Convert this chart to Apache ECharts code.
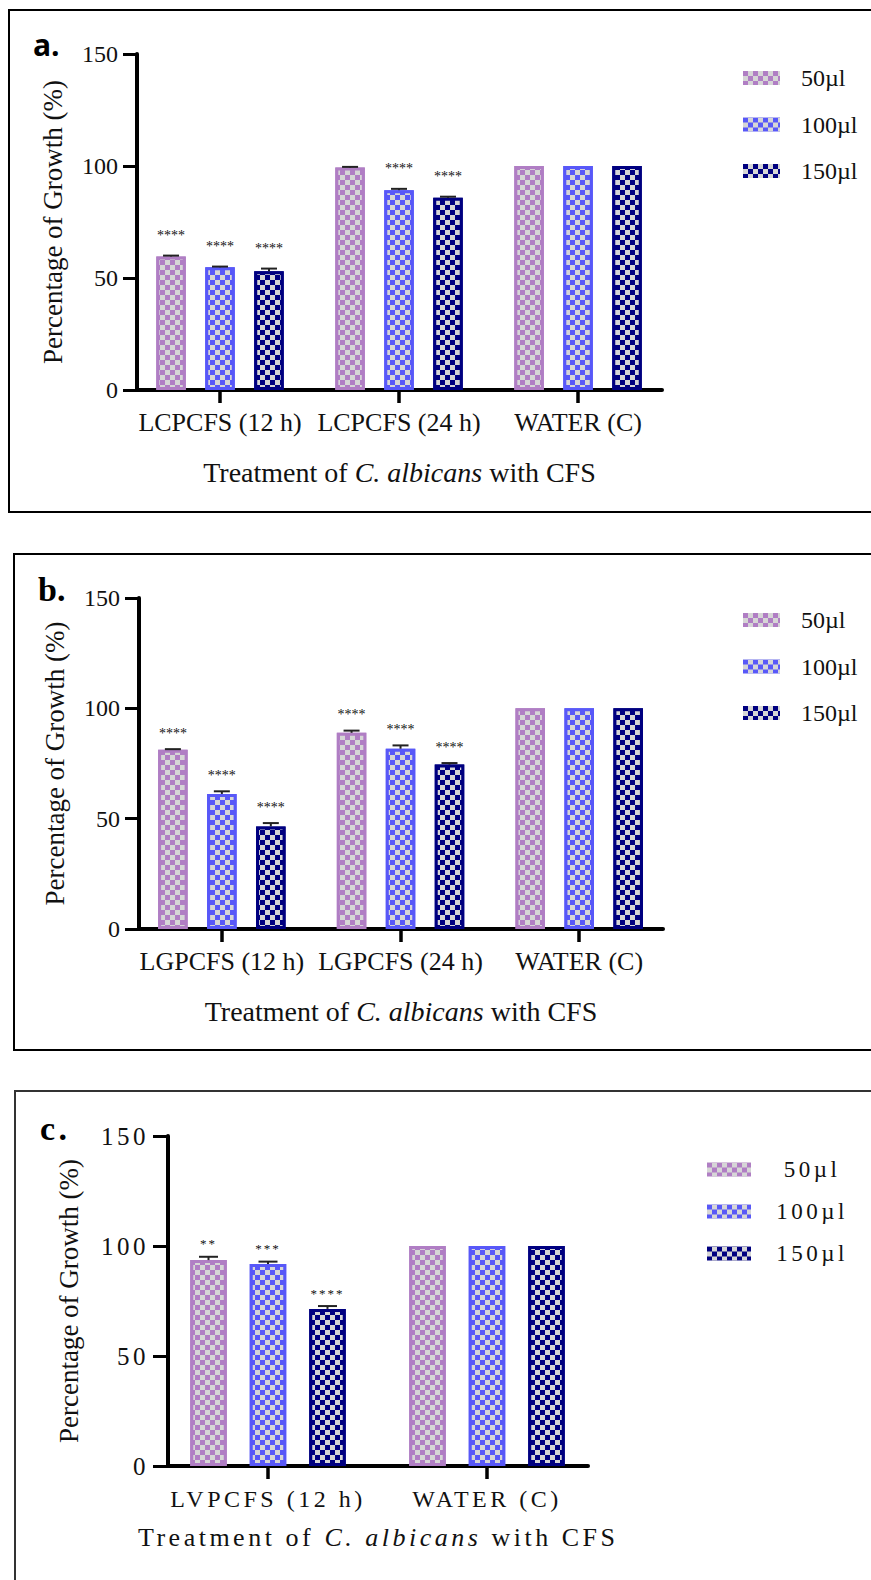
<!DOCTYPE html>
<html>
<head>
<meta charset="utf-8">
<script src="https://cdn.jsdelivr.net/npm/echarts@6/dist/echarts.min.js"></script>
<style>
  html, body { margin: 0; padding: 0; background: #fff; width: 871px; height: 1580px; overflow: hidden; position: relative; }
  .frame { position: absolute; box-sizing: border-box; border: 2px solid #000; }
  .chart { position: absolute; left: 0; width: 871px; }
  /* panel c is typeset with wider tracking */
  #panelC text { letter-spacing: 3.5px; }
  #panelC text[style*="13px"] { letter-spacing: 2px; }     /* significance marks */
  #panelC text[transform^="matrix"] { letter-spacing: 0; } /* rotated axis title */
</style>
</head>
<body>
<div class="frame" style="left:8px;top:9px;width:900px;height:504px"></div>
<div class="frame" style="left:13px;top:553px;width:900px;height:498px"></div>
<div class="frame" style="left:14px;top:1090px;width:900px;height:600px;border-color:#333"></div>
<div id="panelA" class="chart" style="top:0;height:530px"></div>
<div id="panelB" class="chart" style="top:530px;height:540px"></div>
<div id="panelC" class="chart" style="top:1070px;height:510px"></div>
<script>
// ---- data ----
const doseLabels = ['50µl', '100µl', '150µl'];
const yTickMin = 0, yTickMax = 150, yTickStep = 50;
const xTitlePieces = ['Treatment of ', 'C. albicans', ' with CFS'];
const yTitle = 'Percentage of Growth (%)';

const categoriesA = ['LCPCFS (12 h)', 'LCPCFS (24 h)', 'WATER (C)'];
const growthA50 = [59.6, 99.3, 100];
const growthA100 = [54.8, 89.2, 100];
const growthA150 = [53.0, 85.8, 100];
const errorA50 = [0.4, 0.3, 0];
const errorA100 = [0.3, 0.6, 0];
const errorA150 = [1.2, 0.5, 0];
const starsA50 = ['****', '', ''];
const starsA100 = ['****', '****', ''];
const starsA150 = ['****', '****', ''];

const categoriesB = ['LGPCFS (12 h)', 'LGPCFS (24 h)', 'WATER (C)'];
const growthB50 = [81.2, 88.9, 100];
const growthB100 = [61.2, 81.7, 100];
const growthB150 = [46.5, 74.5, 100];
const errorB50 = [0.3, 1.0, 0];
const errorB100 = [1.2, 1.5, 0];
const errorB150 = [1.5, 0.7, 0];
const starsB50 = ['****', '****', ''];
const starsB100 = ['****', '****', ''];
const starsB150 = ['****', '****', ''];

const categoriesC = ['LVPCFS (12 h)', 'WATER (C)'];
const growthC50 = [93.6, 100];
const growthC100 = [91.8, 100];
const growthC150 = [71.4, 100];
const errorC50 = [1.5, 0];
const errorC100 = [1.1, 0];
const errorC150 = [1.3, 0];
const starsC50 = ['**', ''];
const starsC100 = ['***', ''];
const starsC150 = ['****', ''];

// ---- styling ----
const doseColors = ['#b07ec4', '#5858f8', '#000080'];
const checkerColor = '#d6d6d6';
const SERIF = '"Liberation Serif", "Times New Roman", serif';
const INK = '#111';

function checker(cell) {
  return {
    symbol: 'rect', symbolSize: 1, color: checkerColor, rotation: 0,
    dashArrayX: [[cell, cell], [0, cell, cell, 0]],
    dashArrayY: [cell, 0]
  };
}

function buildPanel(el, cfg) {
  const chart = echarts.init(el, null, { renderer: 'svg' });
  const xs = cfg.categories.map((_, i) => i);
  const step = cfg.barWidth * (1 + cfg.barGapRatio);
  const nSeries = cfg.growth.length;
  const series = [];

  cfg.growth.forEach((vals, s) => {
    series.push({
      type: 'bar',
      name: doseLabels[s],
      data: vals.map((v, i) => [xs[i], v]),
      barWidth: cfg.barWidth,
      barGap: Math.round(cfg.barGapRatio * 100) + '%',
      itemStyle: {
        color: doseColors[s],
        borderColor: doseColors[s],
        borderWidth: 3,
        decal: checker(5)
      }
    });
  });

  // error bars (mean + SD) and significance marks
  cfg.growth.forEach((vals, s) => {
    const offset = (s - (nSeries - 1) / 2) * step;
    series.push({
      type: 'custom',
      data: vals.map((v, i) => [xs[i], v, cfg.errors[s][i]]),
      z: 5,
      renderItem: (params, api) => {
        const x = api.value(0), m = api.value(1), e = api.value(2);
        const pTop = api.coord([x, m + e]);
        const pBar = api.coord([x, m]);
        const cx = pTop[0] + offset;
        const children = [];
        if (e > 0) {
          children.push({ type: 'line', shape: { x1: cx, y1: pBar[1], x2: cx, y2: pTop[1] },
            style: { stroke: '#222', lineWidth: 2 } });
          children.push({ type: 'line', shape: { x1: cx - cfg.cap / 2, y1: pTop[1], x2: cx + cfg.cap / 2, y2: pTop[1] },
            style: { stroke: '#222', lineWidth: 2 } });
        }
        const star = cfg.stars[s][params.dataIndex];
        if (star) {
          children.push({ type: 'text', style: {
            text: star, x: cx, y: pTop[1] - cfg.starGap, align: 'center', verticalAlign: 'middle',
            fontSize: cfg.starSize, fontFamily: SERIF, fill: INK } });
        }
        return { type: 'group', children };
      }
    });
  });

  // x-axis title with the species name in italics
  const tw = cfg.xNameWidths || [];
  const tok = (w) => (w ? { width: w } : {});
  const xName = '{a|' + xTitlePieces[0] + '}{i|' + xTitlePieces[1] + '}{b|' + xTitlePieces[2] + '}';
  const nameFont = { fontFamily: SERIF, fontSize: cfg.xNameSize, color: INK };

  chart.setOption({
    animation: false,
    title: {
      text: cfg.letter, left: cfg.letterLeft, top: cfg.letterTop, padding: 0,
      textStyle: { fontFamily: cfg.letterFont, fontWeight: 'bold', fontSize: cfg.letterSize, color: '#000' }
    },
    legend: {
      orient: 'vertical', left: cfg.legendLeft, top: cfg.legendTop,
      itemWidth: cfg.legendIconW, itemHeight: 14, itemGap: cfg.legendGap,
      icon: 'rect', selectedMode: false, data: doseLabels,
      itemStyle: { borderWidth: 0 },
      formatter: '{n|{name}}',
      textStyle: { rich: { n: Object.assign({ fontFamily: SERIF, fontSize: cfg.legendFont, color: INK }, cfg.legendText) } }
    },
    grid: Object.assign({ outerBoundsMode: 'none', containLabel: false }, cfg.grid),
    xAxis: {
      type: 'value', min: cfg.xMin, max: cfg.xMax,
      splitLine: { show: false },
      axisLine: { show: true, onZero: false, lineStyle: { color: '#000', width: 4 } },
      axisTick: { show: true, customValues: xs, length: 13, lineStyle: { color: '#000', width: 3.5 } },
      axisLabel: { customValues: xs, formatter: (v) => cfg.categories[Math.round(v)] || '',
        margin: cfg.xLabelMargin, fontFamily: SERIF, fontSize: cfg.xLabelSize, color: INK },
      name: xName,
      nameLocation: 'middle', nameGap: cfg.xNameGap,
      nameTextStyle: Object.assign({}, nameFont, {
        rich: {
          a: Object.assign({}, nameFont, tok(tw[0])),
          i: Object.assign({}, nameFont, { fontStyle: 'italic' }, tok(tw[1])),
          b: Object.assign({}, nameFont, tok(tw[2]))
        }
      })
    },
    yAxis: {
      type: 'value', min: yTickMin, max: yTickMax, interval: yTickStep,
      splitLine: { show: false },
      axisLine: { show: true, onZero: false, lineStyle: { color: '#000', width: 4 } },
      axisTick: { show: true, length: cfg.yTickLen, lineStyle: { color: '#000', width: 3 } },
      axisLabel: { margin: cfg.yLabelMargin, fontFamily: SERIF, fontSize: cfg.yLabelSize, color: INK },
      name: yTitle,
      nameLocation: 'middle', nameGap: cfg.yNameGap,
      nameTextStyle: { fontFamily: SERIF, fontSize: cfg.yNameSize, color: INK }
    },
    series
  });
  return chart;
}

buildPanel(document.getElementById('panelA'), {
  categories: categoriesA,
  growth: [growthA50, growthA100, growthA150],
  errors: [errorA50, errorA100, errorA150],
  stars: [starsA50, starsA100, starsA150],
  grid: { left: 137, top: 54, width: 525, height: 336 },
  xMin: -0.4637, xMax: 2.469,
  barWidth: 29.5, barGapRatio: 0.66, cap: 16, starGap: 20, starSize: 14,
  letter: 'a.', letterLeft: 33, letterTop: 29, letterFont: '"Open Sans", "Liberation Sans", sans-serif', letterSize: 30,
  legendLeft: 738, legendTop: 61, legendIconW: 37, legendGap: 22.5, legendFont: 24,
  legendText: { padding: [0, 0, 0, 16] },
  xLabelMargin: 19, xLabelSize: 26, xNameGap: 68, xNameSize: 28,
  yTickLen: 14, yLabelMargin: 19, yLabelSize: 24, yNameGap: 71, yNameSize: 27
});

buildPanel(document.getElementById('panelB'), {
  categories: categoriesB,
  growth: [growthB50, growthB100, growthB150],
  errors: [errorB50, errorB100, errorB150],
  stars: [starsB50, starsB100, starsB150],
  grid: { left: 139, top: 68, width: 524, height: 331 },
  xMin: -0.4637, xMax: 2.469,
  barWidth: 29.5, barGapRatio: 0.66, cap: 16, starGap: 16, starSize: 14,
  letter: 'b.', letterLeft: 38, letterTop: 42, letterFont: SERIF, letterSize: 34,
  legendLeft: 738, legendTop: 73, legendIconW: 37, legendGap: 22.5, legendFont: 24,
  legendText: { padding: [0, 0, 0, 16] },
  xLabelMargin: 19, xLabelSize: 26, xNameGap: 68, xNameSize: 28,
  yTickLen: 14, yLabelMargin: 19, yLabelSize: 24, yNameGap: 71, yNameSize: 27
});

buildPanel(document.getElementById('panelC'), {
  categories: categoriesC,
  growth: [growthC50, growthC100, growthC150],
  errors: [errorC50, errorC100, errorC150],
  stars: [starsC50, starsC100, starsC150],
  grid: { left: 168, top: 66, width: 420, height: 330 },
  xMin: -0.4566, xMax: 1.4612,
  barWidth: 36.5, barGapRatio: 0.63, cap: 19, starGap: 13, starSize: 13,
  letter: 'c.', letterLeft: 40, letterTop: 41, letterFont: SERIF, letterSize: 34,
  legendLeft: 702, legendTop: 83, legendIconW: 44, legendGap: 19, legendFont: 23,
  legendText: { width: 112, align: 'center' },
  xLabelMargin: 21, xLabelSize: 24, xNameGap: 58, xNameSize: 26,
  xNameWidths: [187, 157, 137],
  yTickLen: 15, yLabelMargin: 19, yLabelSize: 25, yNameGap: 86, yNameSize: 27
});
</script>
</body>
</html>
